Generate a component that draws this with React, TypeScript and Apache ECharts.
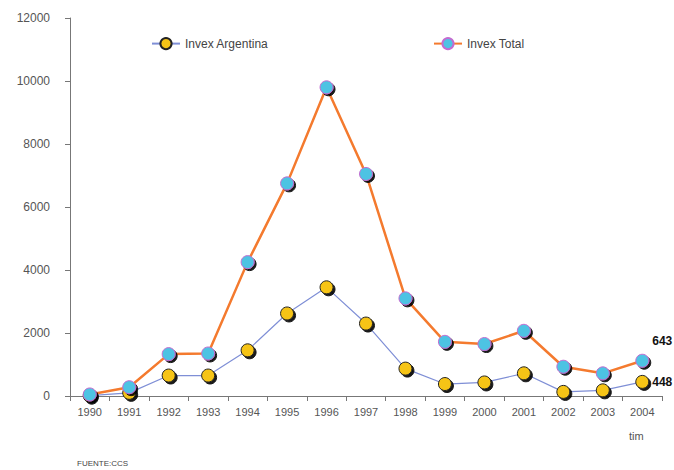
import React, { useEffect, useRef } from "react";
import * as echarts from "echarts";

const years = ["1990","1991","1992","1993","1994","1995","1996","1997","1998","1999","2000","2001","2002","2003","2004"];
const invexArgentina = [10, 100, 650, 650, 1450, 2620, 3450, 2300, 870, 380, 430, 720, 130, 180, 448];
const invexTotal = [50, 280, 1330, 1350, 4250, 6750, 9800, 7050, 3100, 1720, 1650, 2070, 930, 720, 1120];
const endLabelTotal = "643";
const endLabelArg = "448";

const FONT = "'Liberation Sans Narrow', 'Liberation Sans', Arial, sans-serif";

export default function App() {
  const ref = useRef<HTMLDivElement>(null);
  useEffect(() => {
    if (!ref.current) return;
    const chart = echarts.init(ref.current, undefined, { renderer: "svg" });
    const n = years.length;
    chart.setOption({
      animation: false,
      backgroundColor: "#ffffff",
      grid: { left: 70, right: 12, top: 18, bottom: 74 },
      legend: [
        {
          data: ["Invex Argentina"], left: 146, top: 32, itemWidth: 28, itemHeight: 14,
          textStyle: { fontFamily: FONT, fontSize: 12, color: "#444" },
        },
        {
          data: ["Invex Total"], left: 428, top: 32, itemWidth: 28, itemHeight: 14,
          textStyle: { fontFamily: FONT, fontSize: 12, color: "#444" },
        },
      ],
      xAxis: {
        type: "category",
        data: years,
        boundaryGap: true,
        axisLine: { lineStyle: { color: "#777", width: 1 } },
        axisTick: { show: true, length: 5, lineStyle: { color: "#777" } },
        axisLabel: { fontFamily: FONT, fontSize: 11, color: "#555", margin: 10 },
        splitLine: { show: false },
      },
      yAxis: {
        type: "value",
        min: 0,
        max: 12000,
        interval: 2000,
        axisLine: { show: true, lineStyle: { color: "#777", width: 1 } },
        axisTick: { show: true, length: 5, lineStyle: { color: "#777" } },
        axisLabel: { fontFamily: FONT, fontSize: 12, color: "#555", margin: 20, formatter: (v: number) => String(v) },
        splitLine: { show: false },
      },
      series: [
        {
          name: "Invex Argentina",
          type: "line",
          data: invexArgentina.map((v, i) =>
            i === n - 1
              ? { value: v, label: { show: true, position: "right", formatter: endLabelArg, fontFamily: FONT, fontSize: 12, fontWeight: "bold", color: "#111", distance: 3 } }
              : v
          ),
          symbol: "circle",
          symbolSize: 13,
          lineStyle: { color: "#7f8fd6", width: 1.2 },
          itemStyle: {
            color: "#f6c417", borderColor: "#222", borderWidth: 1,
            shadowColor: "rgba(0,0,0,0.9)", shadowOffsetX: 2, shadowOffsetY: 2, shadowBlur: 1,
          },
          z: 2,
        },
        {
          name: "Invex Total",
          type: "line",
          data: invexTotal.map((v, i) =>
            i === n - 1
              ? { value: v, label: { show: true, position: "right", formatter: endLabelTotal, fontFamily: FONT, fontSize: 12, fontWeight: "bold", color: "#111", distance: 3, offset: [0, -20] } }
              : v
          ),
          symbol: "circle",
          symbolSize: 13,
          lineStyle: { color: "#f47a2e", width: 2.5 },
          itemStyle: {
            color: "#4ec3e3", borderColor: "#c46bd0", borderWidth: 1,
            shadowColor: "rgba(0,0,0,0.9)", shadowOffsetX: 2, shadowOffsetY: 2, shadowBlur: 1,
          },
          z: 3,
        },
      ],
      graphic: [
        { type: "text", left: 629, top: 430, style: { text: "tim", fontFamily: FONT, fontSize: 11, fill: "#555" } },
        { type: "text", left: 77, top: 459, style: { text: "FUENTE:CCS", fontFamily: FONT, fontSize: 8, fill: "#444" } },
      ],
    });
    return () => chart.dispose();
  }, []);
  return <div ref={ref} style={{ width: 674, height: 470, position: "absolute", left: 0, top: 0 }} />;
}
